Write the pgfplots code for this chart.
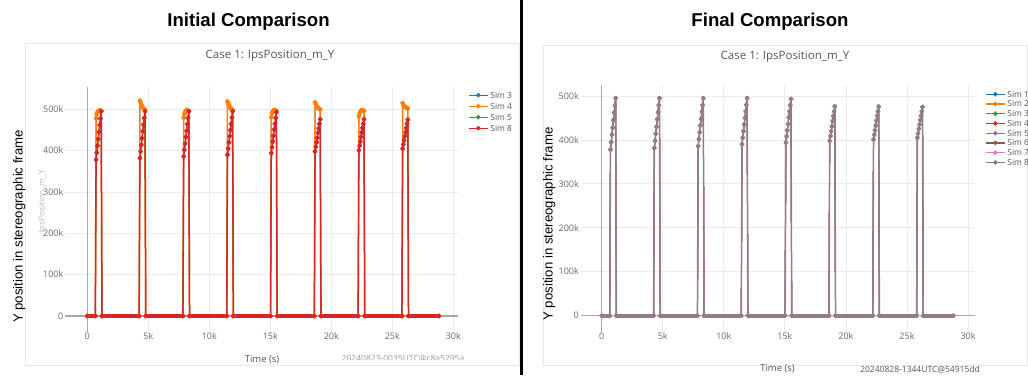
\documentclass[border=0pt]{standalone}
\usepackage{fontspec}
\setmainfont{Open Sans}
\newfontfamily\arialfont{Liberation Sans}
\usepackage{pgfplots}
\usepackage{pgfplotstable}
\pgfplotsset{compat=1.18}

% plotly default palette
\definecolor{c1}{HTML}{1F77B4}
\definecolor{c2}{HTML}{FF7F0E}
\definecolor{c3}{HTML}{2CA02C}
\definecolor{c4}{HTML}{D62728}
\definecolor{c5}{HTML}{9467BD}
\definecolor{c6}{HTML}{8C564B}
\definecolor{c7}{HTML}{E377C2}
\definecolor{c8}{HTML}{7F7F7F}
\definecolor{finalc}{RGB}{146,126,128}
\definecolor{tickgray}{RGB}{105,105,105}
\definecolor{titlegray}{RGB}{85,85,85}
\definecolor{gridgray}{RGB}{236,236,236}
\definecolor{zerogray}{RGB}{168,168,168}
\definecolor{framegray}{RGB}{232,232,232}

% time [s], converged trajectory, Sim 4 trajectory [m]
\pgfplotstableread{
t final sim4
0 0 0
660 0 0
720 378000 478000
780 395000 488000
840 412000 493000
900 428000 496000
960 445000 497000
1020 462000 497000
1080 478000 497000
1140 495000 496000
1200 0 0
4250 0 0
4310 382000 521000
4370 398000 516000
4430 414000 511000
4490 430000 507000
4550 447000 504000
4610 463000 502000
4670 479000 500000
4730 495000 499000
4790 0 0
7840 0 0
7900 386000 480000
7960 402000 489000
8020 417000 494000
8080 433000 497000
8140 448000 498000
8200 464000 498000
8260 479000 497000
8320 495000 496000
8380 0 0
11430 0 0
11490 390000 519000
11550 405000 514000
11610 420000 510000
11670 435000 506000
11730 450000 503000
11790 465000 501000
11850 480000 500000
11910 495000 499000
11970 0 0
15020 0 0
15080 394000 481000
15140 408000 490000
15200 422000 495000
15260 436000 497000
15320 451000 498000
15380 465000 498000
15440 479000 497000
15500 493000 496000
15560 0 0
18610 0 0
18670 398000 517000
18730 409000 512000
18790 420000 508000
18850 431000 505000
18910 443000 503000
18970 454000 502000
19030 465000 501000
19090 476000 500000
19150 0 0
22200 0 0
22260 401000 483000
22320 412000 490000
22380 422000 494000
22440 433000 497000
22500 444000 498000
22560 455000 498000
22620 465000 497000
22680 476000 496000
22740 0 0
25790 0 0
25850 405000 515000
25910 415000 511000
25970 425000 508000
26030 435000 506000
26090 445000 505000
26150 455000 504000
26210 465000 503000
26270 475000 502000
26330 0 0
28800 0 0
}\simdata

% stretches spent at zero (dense samples give a thick band)
\pgfplotstableread{
t z
0 0
660 0
930 nan
1200 0
4250 0
4520 nan
4790 0
7840 0
8110 nan
8380 0
11430 0
11700 nan
11970 0
15020 0
15290 nan
15560 0
18610 0
18880 nan
19150 0
22200 0
22470 nan
22740 0
25790 0
26060 nan
26330 0
28800 0
}\zeroband

\pgfplotsset{
  plotlystyle/.style={
    scale only axis,
    axis line style={draw=none},
    major tick length=0pt,
    grid=major,
    grid style={gridgray, line width=0.8pt},
    scaled x ticks=false, scaled y ticks=false,
    xtick={5000,10000,15000,20000,25000,30000},
    xticklabels={5k,10k,15k,20k,25k,30k},
    extra x ticks={0}, extra x tick labels={0},
    extra x tick style={grid style={zerogray, line width=1.3pt}},
    ytick={100000,200000,300000,400000,500000},
    yticklabels={100k,200k,300k,400k,500k},
    extra y ticks={0}, extra y tick labels={0},
    extra y tick style={grid style={zerogray, line width=1.3pt}},
    tick label style={font=\fontsize{9}{9}\selectfont, text=tickgray, inner sep=0pt},
    xticklabel style={text height=6.4pt, text depth=0pt},
    yticklabel style={text height=6.4pt, text depth=0pt},
    xticklabel shift=1.2pt, yticklabel shift=1.5pt,
    unbounded coords=jump,
    legend image code/.code={\draw[mark repeat=2,mark phase=2,#1] plot coordinates {(0pt,0pt)(9.5pt,0pt)(19pt,0pt)};},
  },
  simline/.style={line width=1.5pt, line join=round, mark=*, mark size=1.8pt, mark options={solid}},
  keyline/.style={line width=1.2pt, mark=*, mark size=1.6pt, mark options={solid}},
  % traces lying underneath an identical trace
  underline/.style={line width=0.8pt, line join=round, mark=*, mark size=1.2pt, mark options={solid}},
  band/.style={forget plot, line width=3.6pt},
  underband/.style={forget plot, line width=2.8pt},
}

\begin{document}
\begin{tikzpicture}
\path[use as bounding box] (0,0) rectangle (1028pt,375pt);

% panel frames
\draw[framegray, line width=0.8pt] (25pt,10pt) rectangle (519pt,332pt);
\draw[framegray, line width=0.8pt] (543pt,10pt) rectangle (1027pt,330pt);

% ---------------- initial comparison ----------------
\begin{axis}[plotlystyle,
  at={(65pt,43pt)}, anchor=south west,
  width=393pt, height=245pt,
  xmin=-1828, xmax=30385, ymin=-38700, ymax=554000,
  legend style={at={(1,1)}, anchor=north west, xshift=10pt, yshift=-5pt,
    draw=none, fill=none, inner sep=0pt, row sep=5pt, column sep=2pt,
    font=\fontsize{8.4}{8.4}\selectfont, text=titlegray,
    nodes={inner sep=0pt, text height=6pt, text depth=0pt},
    legend cell align=left},
]
\addplot[underband, c1] table[x=t,y=z]{\zeroband};
\addplot[underline, c1, forget plot] table[x=t,y=sim4]{\simdata};
\addplot[band, c2] table[x=t,y=z]{\zeroband};
\addplot[simline, c2, forget plot] table[x=t,y=sim4]{\simdata};
\addplot[underband, c3] table[x=t,y=z]{\zeroband};
\addplot[underline, c3, forget plot] table[x=t,y=final]{\simdata};
\addplot[band, c4] table[x=t,y=z]{\zeroband};
\addplot[simline, c4, forget plot] table[x=t,y=final]{\simdata};
\addlegendimage{keyline, c1}\addlegendentry{Sim 3}
\addlegendimage{keyline, c2}\addlegendentry{Sim 4}
\addlegendimage{keyline, c3}\addlegendentry{Sim 5}
\addlegendimage{keyline, c4}\addlegendentry{Sim 8}
\end{axis}

% ---------------- final comparison ----------------
\begin{axis}[plotlystyle,
  at={(580.5pt,43.3pt)}, anchor=south west,
  width=394.5pt, height=246.7pt,
  xmin=-1736, xmax=30570, ymin=-36400, ymax=525000,
  legend style={at={(1,1)}, anchor=north west, xshift=10pt, yshift=-6pt,
    draw=none, fill=none, inner sep=0pt, row sep=3.75pt, column sep=2pt,
    font=\fontsize{8.4}{8.4}\selectfont, text=titlegray,
    nodes={inner sep=0pt, text height=6pt, text depth=0pt},
    legend cell align=left},
]
\addplot[underband, c1] table[x=t,y=z]{\zeroband};
\addplot[underline, c1, forget plot] table[x=t,y=final]{\simdata};
\addplot[underband, c2] table[x=t,y=z]{\zeroband};
\addplot[underline, c2, forget plot] table[x=t,y=final]{\simdata};
\addplot[underband, c3] table[x=t,y=z]{\zeroband};
\addplot[underline, c3, forget plot] table[x=t,y=final]{\simdata};
\addplot[underband, c4] table[x=t,y=z]{\zeroband};
\addplot[underline, c4, forget plot] table[x=t,y=final]{\simdata};
\addplot[underband, c5] table[x=t,y=z]{\zeroband};
\addplot[underline, c5, forget plot] table[x=t,y=final]{\simdata};
\addplot[underband, c6] table[x=t,y=z]{\zeroband};
\addplot[underline, c6, forget plot] table[x=t,y=final]{\simdata};
\addplot[underband, c7] table[x=t,y=z]{\zeroband};
\addplot[underline, c7, forget plot] table[x=t,y=final]{\simdata};
\addplot[band, finalc] table[x=t,y=z]{\zeroband};
\addplot[simline, finalc, forget plot] table[x=t,y=final]{\simdata};
\addlegendimage{keyline, c1}\addlegendentry{Sim 1}
\addlegendimage{keyline, c2}\addlegendentry{Sim 2}
\addlegendimage{keyline, c3}\addlegendentry{Sim 3}
\addlegendimage{keyline, c4}\addlegendentry{Sim 4}
\addlegendimage{keyline, c5}\addlegendentry{Sim 5}
\addlegendimage{keyline, c6}\addlegendentry{Sim 6}
\addlegendimage{keyline, c7}\addlegendentry{Sim 7}
\addlegendimage{keyline, c8}\addlegendentry{Sim 8}
\end{axis}

% headings
\node[anchor=base, font=\arialfont\bfseries\fontsize{18.6}{20}\selectfont] at (248.5pt,348.3pt) {Initial Comparison};
\node[anchor=base, font=\arialfont\bfseries\fontsize{18.6}{20}\selectfont] at (770pt,348.3pt) {Final Comparison};
\node[anchor=base, font=\fontsize{11.5}{12}\selectfont, text=titlegray] at (270pt,316.7pt) {Case 1: IpsPosition\_m\_Y};
\node[anchor=base, font=\fontsize{11.5}{12}\selectfont, text=titlegray] at (785pt,315.7pt) {Case 1: IpsPosition\_m\_Y};

% axis titles
\node[anchor=base, rotate=90, font=\arialfont\fontsize{13.2}{14}\selectfont] at (22.7pt,148.5pt) {Y position in stereographic frame};
\node[anchor=base, rotate=90, font=\arialfont\fontsize{13.2}{14}\selectfont] at (552.5pt,151pt) {Y position in stereographic frame};
\node[anchor=base, rotate=90, font=\fontsize{8.5}{9}\selectfont, text=gray!55] at (44.5pt,173.5pt) {IpsPosition\_m\_Y};
\node[anchor=base, font=\fontsize{9.5}{10}\selectfont, text=titlegray] at (262pt,12.7pt) {Time (s)};
\node[anchor=base, font=\fontsize{9.5}{10}\selectfont, text=titlegray] at (777.5pt,4pt) {Time (s)};

% build stamps (the left one is partly cut off)
\begin{scope}
\clip (340pt,15.5pt) rectangle (470pt,20pt);
\node[anchor=base, font=\fontsize{8.5}{9}\selectfont, text=gray!80] at (403pt,13.5pt) {20240823-0035UTC@c8a5295a};
\end{scope}
\node[anchor=base, font=\fontsize{8.5}{9}\selectfont, text=titlegray] at (920pt,2.5pt) {20240828-1344UTC@54915dd};

% divider between the two panels
\draw[line width=3pt] (521.5pt,0pt) -- (521.5pt,375pt);
\end{tikzpicture}
\end{document}
